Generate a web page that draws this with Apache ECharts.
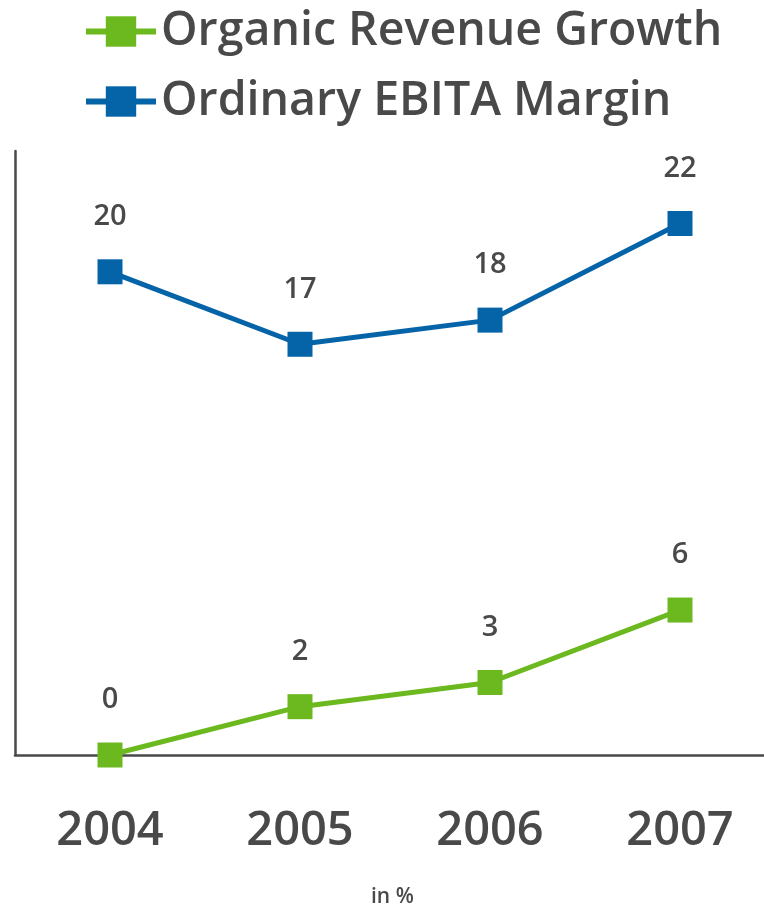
<!DOCTYPE html>
<html>
<head>
<meta charset="utf-8">
<script src="https://cdn.jsdelivr.net/npm/echarts@6/dist/echarts.min.js"></script>
<style>
  html, body { margin: 0; padding: 0; background: #ffffff; }
  #chart { width: 764px; height: 910px; }
</style>
</head>
<body>
<div id="chart"></div>
<script>
const years = ['2004', '2005', '2006', '2007'];
const organicGrowth = [0, 2, 3, 6];
const ebitaMargin = [20, 17, 18, 22];
const unitNote = 'in %';

const textColor = '#494949';
const green = '#6bb91f';
const blue = '#0563a8';
const font = '"Open Sans", "DejaVu Sans", sans-serif';

const chart = echarts.init(document.getElementById('chart'), null, { renderer: 'canvas' });

function lineSeries(name, data, color) {
  return {
    name,
    type: 'line',
    data,
    symbol: 'rect',
    symbolSize: 25,
    lineStyle: { color, width: 5 },
    itemStyle: { color },
    label: {
      show: true,
      position: 'top',
      distance: 28,
      color: textColor,
      fontFamily: font,
      fontWeight: 600,
      fontSize: 29,
    },
    emphasis: { disabled: true },
  };
}

chart.setOption({
  animation: false,
  backgroundColor: '#ffffff',
  legend: {
    orient: 'vertical',
    left: 78,
    top: 3,
    itemWidth: 70,
    itemHeight: 38,
    itemGap: 23,
    lineStyle: { width: 6 },
    textStyle: {
      color: textColor,
      fontFamily: font,
      fontWeight: 600,
      fontSize: 46.5,
    },
    data: ['Organic Revenue Growth', 'Ordinary EBITA Margin'],
  },
  // the plot runs past the right edge, like the original
  grid: {
    left: 15,
    top: 151,
    width: 760,
    height: 604,
    containLabel: false,
    outerBoundsMode: 'none',
  },
  xAxis: {
    type: 'category',
    data: years,
    axisLine: { lineStyle: { color: textColor, width: 2.5 } },
    axisTick: { show: false },
    axisLabel: {
      color: textColor,
      fontFamily: font,
      fontWeight: 600,
      fontSize: 47,
      margin: 53,
    },
  },
  yAxis: {
    type: 'value',
    min: 0,
    max: 25,
    axisLine: { show: true, lineStyle: { color: textColor, width: 2.5 } },
    axisTick: { show: false },
    axisLabel: { show: false },
    splitLine: { show: false },
  },
  graphic: [
    {
      type: 'text',
      left: 371,
      top: 887,
      style: {
        text: unitNote,
        fill: textColor,
        font: `600 21px ${font}`,
      },
    },
  ],
  series: [
    lineSeries('Organic Revenue Growth', organicGrowth, green),
    lineSeries('Ordinary EBITA Margin', ebitaMargin, blue),
  ],
});
</script>
</body>
</html>
